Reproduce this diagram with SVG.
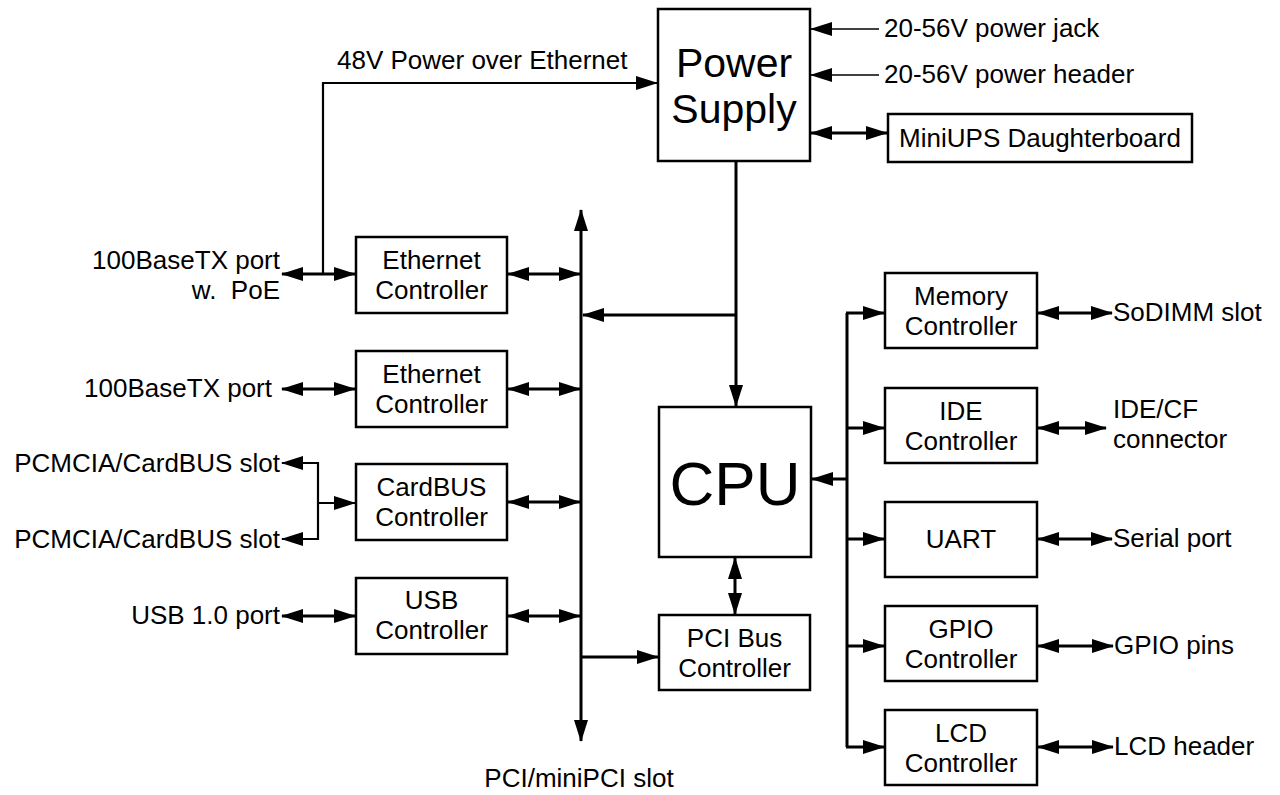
<svg xmlns="http://www.w3.org/2000/svg" width="1280" height="795" viewBox="0 0 1280 795">
<defs>
<style>
.t{font-family:"Liberation Sans",Arial,sans-serif;font-size:26px;fill:#000}
.c{text-anchor:middle}
.e{text-anchor:end}
.b{fill:#fff;stroke:#000;stroke-width:2.5}
.w{fill:none;stroke:#000;stroke-width:3}
.n{fill:none;stroke:#000;stroke-width:2.2}
.h{fill:none;stroke:#000;stroke-width:1.6}
</style>
<marker id="ah" markerUnits="userSpaceOnUse" viewBox="0 0 22 14" markerWidth="22" markerHeight="14" refX="21" refY="7" orient="auto-start-reverse">
<path d="M0,0 L22,7 L0,14 z" fill="#000"/>
</marker>
</defs>
<rect width="1280" height="795" fill="#fff"/>

<g id="connectors">
<line class="w" x1="581" y1="210" x2="581" y2="741" marker-start="url(#ah)" marker-end="url(#ah)"/>
<polyline class="n" points="323,274 323,83 657,83" marker-end="url(#ah)"/>
<line class="h" x1="879" y1="29" x2="811" y2="29" marker-end="url(#ah)"/>
<line class="h" x1="879" y1="75" x2="811" y2="75" marker-end="url(#ah)"/>
<line class="w" x1="811" y1="133" x2="887" y2="133" marker-start="url(#ah)" marker-end="url(#ah)"/>
<line class="w" x1="736" y1="162" x2="736" y2="406" marker-end="url(#ah)"/>
<line class="w" x1="736" y1="315" x2="583" y2="315" marker-end="url(#ah)"/>
<line class="w" x1="735" y1="558" x2="735" y2="614" marker-start="url(#ah)" marker-end="url(#ah)"/>
<line class="w" x1="581" y1="657" x2="658" y2="657" marker-end="url(#ah)"/>
<line class="w" x1="282" y1="274" x2="355" y2="274" marker-start="url(#ah)" marker-end="url(#ah)"/>
<line class="w" x1="508" y1="274" x2="580" y2="274" marker-start="url(#ah)" marker-end="url(#ah)"/>
<line class="w" x1="282" y1="389" x2="355" y2="389" marker-start="url(#ah)" marker-end="url(#ah)"/>
<line class="w" x1="508" y1="389" x2="580" y2="389" marker-start="url(#ah)" marker-end="url(#ah)"/>
<polyline class="n" points="355,503 318,503" marker-start="url(#ah)"/>
<polyline class="n" points="282,463 318,463 318,539 282,539" marker-start="url(#ah)" marker-end="url(#ah)"/>
<line class="w" x1="508" y1="502" x2="580" y2="502" marker-start="url(#ah)" marker-end="url(#ah)"/>
<line class="w" x1="282" y1="616" x2="355" y2="616" marker-start="url(#ah)" marker-end="url(#ah)"/>
<line class="w" x1="508" y1="616" x2="580" y2="616" marker-start="url(#ah)" marker-end="url(#ah)"/>
<polyline class="w" points="847,313 847,747"/>
<line class="w" x1="847" y1="479" x2="812" y2="479" marker-end="url(#ah)"/>
<line class="w" x1="846" y1="313" x2="884" y2="313" marker-end="url(#ah)"/>
<line class="w" x1="846" y1="428" x2="884" y2="428" marker-end="url(#ah)"/>
<line class="w" x1="846" y1="539" x2="884" y2="539" marker-end="url(#ah)"/>
<line class="w" x1="846" y1="646" x2="884" y2="646" marker-end="url(#ah)"/>
<line class="w" x1="846" y1="747" x2="884" y2="747" marker-end="url(#ah)"/>
<line class="w" x1="1038" y1="313" x2="1112" y2="313" marker-start="url(#ah)" marker-end="url(#ah)"/>
<line class="w" x1="1038" y1="428" x2="1106" y2="428" marker-start="url(#ah)" marker-end="url(#ah)"/>
<line class="w" x1="1038" y1="539" x2="1112" y2="539" marker-start="url(#ah)" marker-end="url(#ah)"/>
<line class="w" x1="1038" y1="646" x2="1113" y2="646" marker-start="url(#ah)" marker-end="url(#ah)"/>
<line class="w" x1="1038" y1="747" x2="1113" y2="747" marker-start="url(#ah)" marker-end="url(#ah)"/>
</g>

<g id="labels">
<text class="t" x="337" y="69">48V Power over Ethernet</text>
<text class="t" x="884" y="37">20-56V power jack</text>
<text class="t" x="884" y="83">20-56V power header</text>
<text class="t e" x="280" y="269">100BaseTX port</text>
<text class="t e" x="280" y="299" xml:space="preserve">w.  PoE</text>
<text class="t e" x="272" y="397">100BaseTX port</text>
<text class="t e" x="280" y="472">PCMCIA/CardBUS slot</text>
<text class="t e" x="280" y="548">PCMCIA/CardBUS slot</text>
<text class="t e" x="280" y="624">USB 1.0 port</text>
<text class="t c" x="579" y="787">PCI/miniPCI slot</text>
<text class="t" x="1113" y="321">SoDIMM slot</text>
<text class="t" x="1113" y="418">IDE/CF</text>
<text class="t" x="1113" y="448">connector</text>
<text class="t" x="1113" y="547">Serial port</text>
<text class="t" x="1114" y="654">GPIO pins</text>
<text class="t" x="1114" y="755">LCD header</text>
</g>

<g id="power">
<rect class="b" x="658" y="9" width="152" height="152"/>
<text class="t c" x="734" y="77" style="font-size:41px">Power</text>
<text class="t c" x="734" y="123" style="font-size:41px">Supply</text>
</g>
<g id="miniups">
<rect class="b" x="888" y="114" width="304" height="48"/>
<text class="t c" x="1040" y="147">MiniUPS Daughterboard</text>
</g>
<g id="cpu">
<rect class="b" x="659" y="407" width="152" height="150"/>
<text class="t c" x="735" y="505" style="font-size:62px">CPU</text>
</g>
<g id="pcibus">
<rect class="b" x="659" y="615" width="151" height="75"/>
<text class="t c" x="734.5" y="647">PCI Bus</text>
<text class="t c" x="734.5" y="677">Controller</text>
</g>
<g id="eth1">
<rect class="b" x="356" y="237" width="151" height="76"/>
<text class="t c" x="431.5" y="269">Ethernet</text>
<text class="t c" x="431.5" y="299">Controller</text>
</g>
<g id="eth2">
<rect class="b" x="356" y="351" width="151" height="76"/>
<text class="t c" x="431.5" y="383">Ethernet</text>
<text class="t c" x="431.5" y="413">Controller</text>
</g>
<g id="cardbus">
<rect class="b" x="356" y="464" width="151" height="76"/>
<text class="t c" x="431.5" y="496">CardBUS</text>
<text class="t c" x="431.5" y="526">Controller</text>
</g>
<g id="usb">
<rect class="b" x="356" y="578" width="151" height="76"/>
<text class="t c" x="431.5" y="609">USB</text>
<text class="t c" x="431.5" y="639">Controller</text>
</g>
<g id="memory">
<rect class="b" x="885" y="273" width="152" height="75"/>
<text class="t c" x="961" y="305">Memory</text>
<text class="t c" x="961" y="335">Controller</text>
</g>
<g id="ide">
<rect class="b" x="885" y="388" width="152" height="75"/>
<text class="t c" x="961" y="420">IDE</text>
<text class="t c" x="961" y="450">Controller</text>
</g>
<g id="uart">
<rect class="b" x="885" y="502" width="152" height="75"/>
<text class="t c" x="961" y="548">UART</text>
</g>
<g id="gpio">
<rect class="b" x="885" y="606" width="152" height="75"/>
<text class="t c" x="961" y="638">GPIO</text>
<text class="t c" x="961" y="668">Controller</text>
</g>
<g id="lcd">
<rect class="b" x="885" y="710" width="152" height="75"/>
<text class="t c" x="961" y="742">LCD</text>
<text class="t c" x="961" y="772">Controller</text>
</g>
</svg>
